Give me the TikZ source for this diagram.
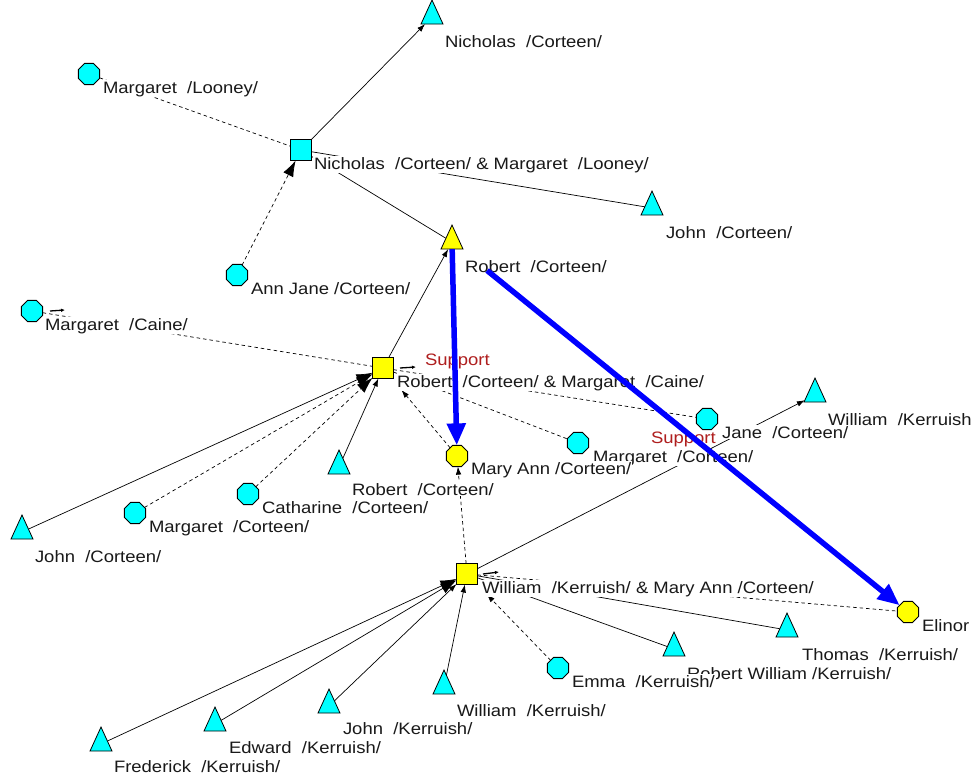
\documentclass[tikz,border=0pt]{standalone}
\usepackage{fontspec}
\newfontfamily\lblfont{Liberation Sans}[FakeStretch=1.12]
\usetikzlibrary{arrows.meta,shapes.geometric,calc}
\definecolor{cy}{RGB}{0,255,255}
\definecolor{yl}{RGB}{255,255,0}
\definecolor{sup}{RGB}{175,30,30}
\definecolor{txt}{RGB}{25,25,25}
\definecolor{bl}{RGB}{0,0,255}
\pgfdeclarelayer{bg}
\pgfdeclarelayer{edges}
\pgfdeclarelayer{labels}
\pgfdeclarelayer{top}
\pgfsetlayers{bg,edges,labels,main,top}
\begin{document}
\begin{tikzpicture}[x=1pt,y=-1pt,
  every node/.style={inner sep=0pt, outer sep=0pt},
  tri/.style={draw=black, line width=0.8pt, isosceles triangle, isosceles triangle stretches, shape border rotate=90, minimum width=22pt, minimum height=24pt},
  oct/.style={draw=black, line width=0.8pt, regular polygon, regular polygon sides=8, minimum size=23pt},
  sq/.style={draw=black, line width=0.8pt, rectangle, minimum size=21pt},
  lbl/.style={anchor=base west, fill=white, inner sep=1pt, text=txt, font=\lblfont\fontsize{16.5}{18}\selectfont},
  suplbl/.style={anchor=base west, text=sup, font=\lblfont\fontsize{16.5}{18}\selectfont},
  ml/.style={draw=black, line width=0.7pt},
  fl/.style={draw=black, line width=0.7pt, dash pattern=on 3.5pt off 3pt},
  tipS/.style={-{Latex[length=8pt,width=5.5pt]}},
  tipB/.style={-{Latex[length=16pt,width=11pt]}},
  bluearrow/.style={draw=bl, line width=5.5pt, -{Triangle[length=22pt,width=18pt]}},
  stray/.style={draw=black, line width=1.3pt, -{Latex[length=4pt,width=3.5pt]}}
]
\begin{pgfonlayer}{bg}
\fill[white] (0,0) rectangle (971,780);
\end{pgfonlayer}
\useasboundingbox (0,0) rectangle (971,780);

% ---------- shapes ----------
% families
\node[sq, fill=cy] (F1) at (301,150) {};
\node[sq, fill=yl] (F2) at (383,368) {};
\node[sq, fill=yl] (F3) at (467,574) {};
% males (triangles)
\node[tri, fill=cy] (nicT)   at (432,17)  {};
\node[tri, fill=cy] (johnC)  at (652,208) {};
\node[tri, fill=yl] (robT)   at (452,242) {};
\node[tri, fill=cy] (robC)   at (339,467) {};
\node[tri, fill=cy] (johnL)  at (22,532)  {};
\node[tri, fill=cy] (wilR)   at (815,395) {};
\node[tri, fill=cy] (thomas) at (787,630) {};
\node[tri, fill=cy] (robW)   at (674,649) {};
\node[tri, fill=cy] (wilB)   at (444,687) {};
\node[tri, fill=cy] (johnK)  at (329,706) {};
\node[tri, fill=cy] (edward) at (215,724) {};
\node[tri, fill=cy] (fred)   at (101,744) {};
% females (octagons)
\node[oct, fill=cy] (mLoo)   at (89,74)   {};
\node[oct, fill=cy] (annJ)   at (237,275) {};
\node[oct, fill=cy] (mCaine) at (32,311)  {};
\node[oct, fill=cy] (jane)   at (707,419) {};
\node[oct, fill=cy] (mCorR)  at (578,443) {};
\node[oct, fill=yl] (maryA)  at (457,456) {};
\node[oct, fill=cy] (cath)   at (248,494) {};
\node[oct, fill=cy] (mCorL)  at (135,513) {};
\node[oct, fill=cy] (emma)   at (558,668) {};
\node[oct, fill=yl] (elinor) at (908,612) {};

% ---------- connectors ----------
\begin{pgfonlayer}{edges}
% family 1
\draw[ml, tipS] (F1) -- (nicT);
\draw[fl] (mLoo) -- (F1);
\draw[fl, tipB] (annJ) -- (F1);
\draw[ml] (F1) -- (robT);
\draw[ml] (F1) -- (johnC);
% family 2
\draw[ml, tipS] (F2) -- (robT);
\draw[fl] (mCaine) -- (F2);
\draw[fl] (F2) -- (jane);
\draw[fl] (F2) -- (mCorR);
\draw[fl, tipS, shorten >=15pt] (maryA) -- (F2);
\draw[ml, tipB] (johnL) -- (F2);
\draw[fl, tipB] (mCorL) -- (F2);
\draw[fl, tipB] (cath) -- (F2);
\draw[ml, tipS] (robC) -- (F2);
% family 3
\draw[fl, tipS] (F3) -- (maryA);
\draw[ml, tipS] (F3) -- (wilR);
\draw[ml, tipB] (fred) -- (F3);
\draw[ml, tipB] (edward) -- (F3);
\draw[ml, tipS] (johnK) -- (F3);
\draw[ml, tipS] (wilB) -- (F3);
\draw[fl, tipS, shorten >=14pt] (emma) -- (F3);
\draw[ml] (F3) -- (robW);
\draw[ml] (F3) -- (thomas);
\draw[fl] (F3) -- (elinor);
\end{pgfonlayer}

% ---------- labels ----------
\begin{pgfonlayer}{labels}
\node[lbl] (lnicT)   at ($(nicT)+(12,30)$)   {Nicholas\ \ /Corteen/};
\node[lbl] (lmLoo)   at ($(mLoo)+(13,19)$)   {Margaret\ \ /Looney/};
\node[lbl] (lF1)     at ($(F1)+(12,19)$)     {Nicholas\ \ /Corteen/ \& Margaret\ \ /Looney/};
\node[lbl] (ljohnC)  at ($(johnC)+(13,30)$)  {John\ \ /Corteen/};
\node[lbl] (lrobT)   at ($(robT)+(12,30)$)   {Robert\ \ /Corteen/};
\node[lbl] (lannJ)   at ($(annJ)+(13,19)$)   {Ann Jane /Corteen/};
\node[lbl] (lmCaine) at ($(mCaine)+(12,19)$) {Margaret\ \ /Caine/};
\node[lbl] (lF2)     at ($(F2)+(13,19)$)     {Robert\ \ /Corteen/ \& Margaret\ \ /Caine/};
\node[lbl] (lwilR)   at ($(wilR)+(12,30)$)   {William\ \ /Kerruish/};
\node[lbl] (ljane)   at ($(jane)+(14,19)$)   {Jane\ \ /Corteen/};
\node[lbl] (lmCorR)  at ($(mCorR)+(14,19)$)  {Margaret\ \ /Corteen/};
\node[lbl] (lmaryA)  at ($(maryA)+(13,18)$)  {Mary Ann /Corteen/};
\node[lbl] (lrobC)   at ($(robC)+(12,28)$)   {Robert\ \ /Corteen/};
\node[lbl] (lcath)   at ($(cath)+(13,19)$)   {Catharine\ \ /Corteen/};
\node[lbl] (lmCorL)  at ($(mCorL)+(13,19)$)  {Margaret\ \ /Corteen/};
\node[lbl] (ljohnL)  at ($(johnL)+(12,30)$)  {John\ \ /Corteen/};
\node[lbl] (lF3)     at ($(F3)+(14,19)$)     {William\ \ /Kerruish/ \& Mary Ann /Corteen/};
\node[lbl] (lelinor) at ($(elinor)+(13,19)$) {Elinor};
\node[lbl] (lthomas) at ($(thomas)+(14,30)$) {Thomas\ \ /Kerruish/};
\node[lbl] (lrobW)   at ($(robW)+(12,30)$)   {Robert William /Kerruish/};
\node[lbl] (lemma)   at ($(emma)+(13,19)$)   {Emma\ \ /Kerruish/};
\node[lbl] (lwilB)   at ($(wilB)+(12,29)$)   {William\ \ /Kerruish/};
\node[lbl] (ljohnK)  at ($(johnK)+(13,28)$)  {John\ \ /Kerruish/};
\node[lbl] (ledward) at ($(edward)+(13,29)$) {Edward\ \ /Kerruish/};
\node[lbl] (lfred)   at ($(fred)+(12,28)$)   {Frederick\ \ /Kerruish/};
\end{pgfonlayer}

% ---------- top layer ----------
\begin{pgfonlayer}{top}
\coordinate (s1a) at (50,311);  \coordinate (s1b) at (65,310);
\coordinate (s2a) at (400,368); \coordinate (s2b) at (416,367);
\coordinate (s3a) at (483,574); \coordinate (s3b) at (499,572);
\draw[stray] (s1a) -- (s1b);
\draw[stray] (s2a) -- (s2b);
\draw[stray] (s3a) -- (s3b);
\node[suplbl] (sup1) at (425,365) {Support};
\node[suplbl] (sup2) at (651,443) {Support};
\draw[bluearrow] (robT) -- (maryA);
\draw[bluearrow, shorten <=34pt] (robT) -- (elinor);
\end{pgfonlayer}
\end{tikzpicture}
\end{document}
